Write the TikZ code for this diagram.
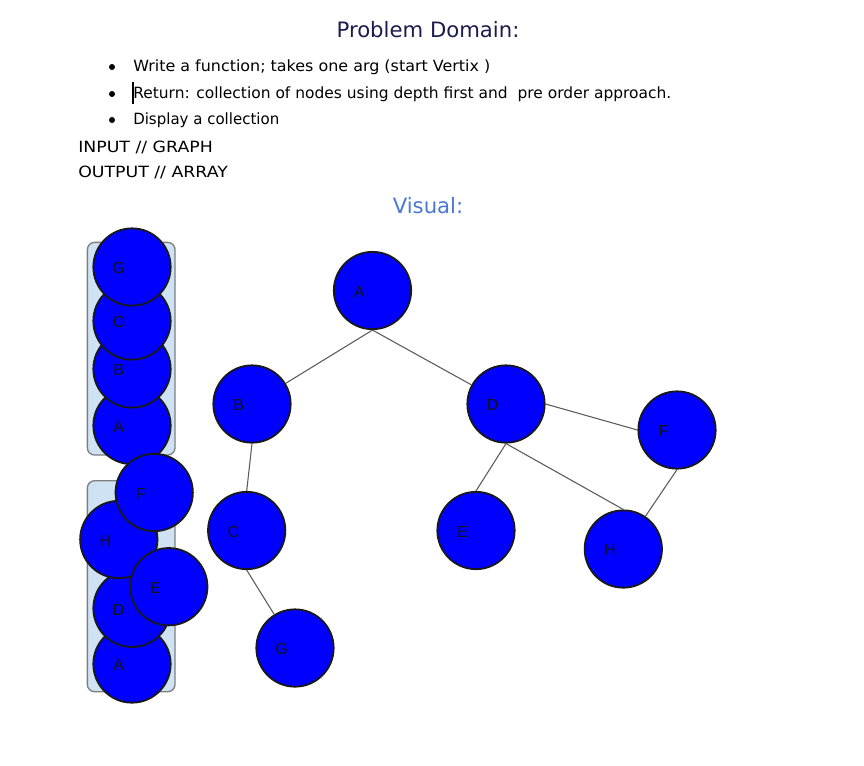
\documentclass[tikz,border=0pt]{standalone}
\usepackage{fontspec}
\setmainfont{DejaVu Sans}
\newfontfamily\lblfont{Liberation Sans}
\definecolor{titlecol}{HTML}{1C1C4C}
\definecolor{viscol}{HTML}{4A78D4}
\definecolor{stackfill}{HTML}{CFE2F3}
\definecolor{stackdraw}{HTML}{7F7F7F}
\definecolor{edgecol}{HTML}{5A5A5A}
\begin{document}
\begin{tikzpicture}[x=0.75pt,y=-0.75pt,
  vx/.style={circle,draw=black!90,fill=blue,line width=1.35pt,minimum size=58pt,inner sep=0pt,
     label={[font=\lblfont\fontsize{12}{13}\selectfont,text=black!92,xshift=-10pt,yshift=-1pt]center:#1}},
  edge/.style={draw=edgecol,line width=0.8pt},
  stackbox/.style={draw=stackdraw,fill=stackfill,line width=1pt,rounded corners=5.5pt},
  body/.style={font=\fontsize{11.6}{13}\selectfont,anchor=west,inner sep=0pt,text=black},
  bul/.style={circle,fill=black,inner sep=0pt,minimum size=4.5pt}]
\useasboundingbox (0,0) rectangle (864,765);
% header
\node[font=\fontsize{15.9}{19}\selectfont,text=titlecol] (title) at (428,30) {Problem Domain:};
\node[bul] (b1) at (112,67) {};
\node[bul] (b2) at (112,94) {};
\node[bul] (b3) at (112,120) {};
\node[body] (t1) at (133,67) {\addfontfeatures{FakeStretch=1.03}Write a function; takes one arg (start Vertix )};
\node[body] (t2) at (133,94) {Return: collection of nodes using depth first and\ \ pre order approach.};
\node[body] (t3) at (133,120) {\addfontfeatures{FakeStretch=0.97}Display a collection};
\coordinate (cur1) at (133,82);
\coordinate (cur2) at (133,104);
\draw[line width=1.2pt] (cur1) -- (cur2);
\node[body] (t4) at (78,147) {\addfontfeatures{FakeStretch=1.12}INPUT // GRAPH};
\node[body] (t5) at (78,172) {\addfontfeatures{FakeStretch=1.12}OUTPUT // ARRAY};
\node[font=\fontsize{15.9}{19}\selectfont,text=viscol] (visual) at (428,206) {Visual:};
% stacks
\node[stackbox,minimum width=65.8pt,minimum height=159.5pt] (stack1) at (131.2,348.7) {};
\node[stackbox,minimum width=65.8pt,minimum height=158.25pt] (stack2) at (131.2,586.2) {};
\node[vx=A] (sA) at (132,425.5) {};
\node[vx=B] (sB) at (132,369) {};
\node[vx=C] (sC) at (132,321) {};
\node[vx=G] (sG) at (132,267) {};
\node[vx=A] (tA) at (132,664) {};
\node[vx=D] (tD) at (132,608.3) {};
\node[vx=H] (tH) at (118.8,539.5) {};
\node[vx=E] (tE) at (168.8,586.7) {};
\node[vx=F] (tF) at (154.2,492.5) {};
% graph
\node[vx=A] (A) at (372.5,290.5) {};
\node[vx=B] (B) at (252,404) {};
\node[vx=D] (D) at (506,404) {};
\node[vx=F] (F) at (677,430) {};
\node[vx=C] (C) at (246.7,530.5) {};
\node[vx=E] (E) at (476,530.5) {};
\node[vx=H] (H) at (623.3,549) {};
\node[vx=G] (G) at (295,648) {};
\draw[edge] (A.south) -- (B);
\draw[edge] (A.south) -- (D);
\draw[edge] (B.south) -- (C.north);
\draw[edge] (C.south) -- (G);
\draw[edge] (D.east) -- (F.west);
\draw[edge] (D.south) -- (E.north);
\draw[edge] (D.south) -- (H.north);
\draw[edge] (F.south) -- (H);
\end{tikzpicture}
\end{document}
